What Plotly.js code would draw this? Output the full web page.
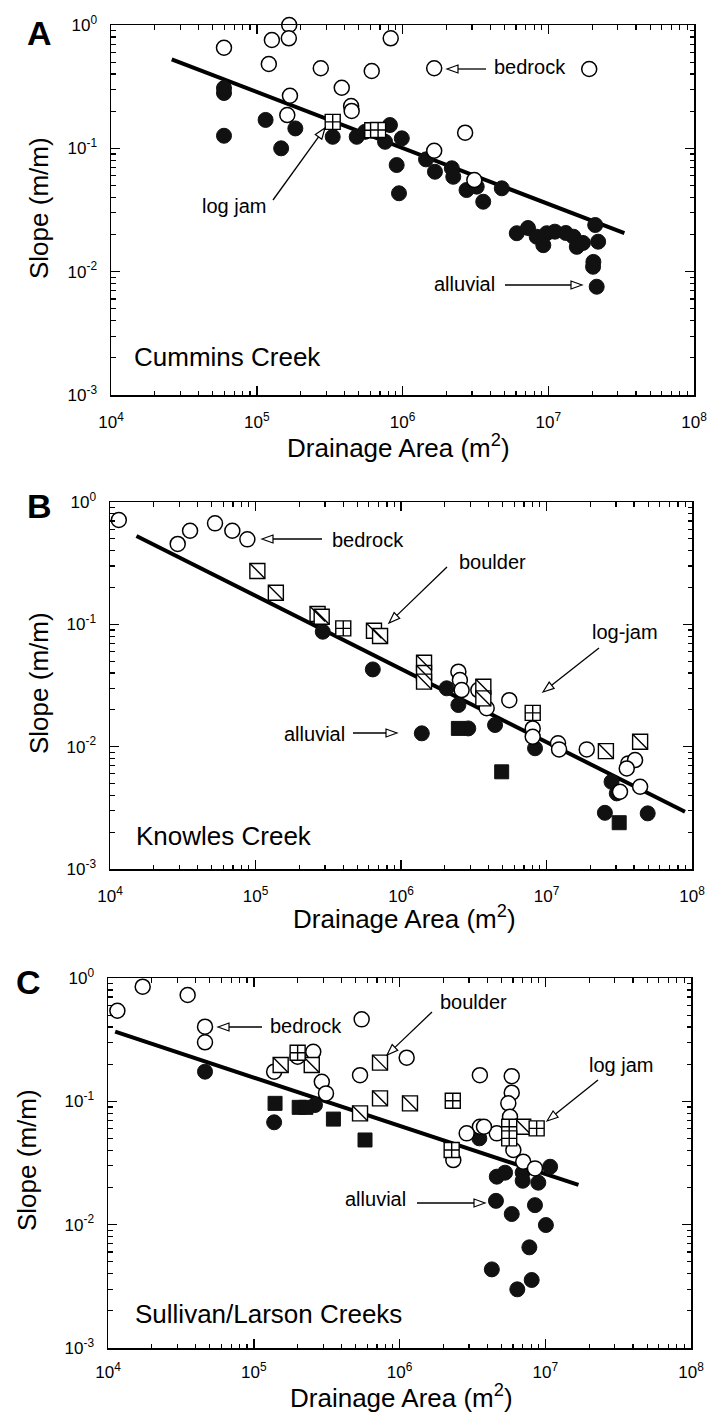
<!DOCTYPE html>
<html><head><meta charset="utf-8">
<script src="https://cdn.plot.ly/plotly-3.0.1.min.js"></script>
<style>html,body{margin:0;padding:0;background:#fff}#chart{width:710px;height:1413px}</style>
</head><body><div id="chart"></div>
<script>
// ---------------- DATA ----------------
const xTickVals = [1e4, 1e5, 1e6, 1e7, 1e8];
const xTickText = ['10<sup>4</sup>', '10<sup>5</sup>', '10<sup>6</sup>', '10<sup>7</sup>', '10<sup>8</sup>'];
const yTickVals = [0.001, 0.01, 0.1, 1];
const yTickText = ['10<sup>-3</sup>', '10<sup>-2</sup>', '10<sup>-1</sup>', '10<sup>0</sup>'];

// Panel A - Cummins Creek
const A_bedrock_x = [5.96e4, 1.27e5, 1.67e5, 1.66e5, 1.21e5, 2.75e5, 3.83e5, 1.69e5, 1.62e5, 4.44e5, 4.48e5, 8.3e5, 6.15e5, 1.65e6, 1.91e7, 2.69e6, 1.65e6, 3.11e6];
const A_bedrock_y = [0.654, 0.756, 1.0, 0.78, 0.483, 0.446, 0.31, 0.267, 0.186, 0.220, 0.201, 0.78, 0.424, 0.446, 0.44, 0.134, 0.0956, 0.0553];
const A_alluvial_x = [5.96e4, 5.96e4, 5.96e4, 1.15e5, 1.84e5, 1.47e5, 3.32e5, 4.85e5, 5.53e5, 8.2e5, 7.59e5, 9.89e5, 9.12e5, 9.46e5, 1.45e6, 1.67e6, 2.18e6, 2.23e6, 2.75e6, 3.23e6, 3.58e6, 4.8e6, 6.08e6, 7.26e6, 8.33e6, 9.76e6, 1.11e7, 9.25e6, 1.49e7, 1.57e7, 2.1e7, 2.2e7, 2.04e7, 2.03e7, 2.15e7, 1.32e7, 1.73e7];
const A_alluvial_y = [0.308, 0.281, 0.1265, 0.170, 0.145, 0.100, 0.124, 0.124, 0.136, 0.1545, 0.113, 0.1205, 0.0732, 0.0432, 0.0814, 0.0646, 0.0689, 0.0588, 0.0459, 0.0489, 0.0369, 0.0474, 0.0205, 0.0226, 0.0192, 0.0205, 0.0211, 0.0164, 0.0192, 0.0159, 0.0239, 0.0175, 0.0120, 0.01096, 0.00755, 0.0206, 0.0171];
const A_logjam_x = [3.32e5, 6.2e5, 6.8e5];
const A_logjam_y = [0.164, 0.14, 0.141];
const A_fit_x = [2.61e4, 3.33e7];
const A_fit_y = [0.527, 0.0205];

// Panel B - Knowles Creek
const B_bedrock_x = [1.15e4, 2.92e4, 3.55e4, 5.27e4, 6.93e4, 8.79e4, 2.48e6, 2.54e6, 2.61e6, 3.4e6, 5.55e6, 3.88e6, 8.04e6, 8.04e6, 1.2e7, 1.22e7, 1.89e7, 3.65e7, 4.06e7, 3.56e7, 4.4e7, 3.2e7];
const B_bedrock_y = [0.713, 0.454, 0.582, 0.669, 0.582, 0.495, 0.041, 0.0351, 0.029, 0.029, 0.0240, 0.0206, 0.0141, 0.01205, 0.01064, 0.0095, 0.0095, 0.0073, 0.00777, 0.00664, 0.0047, 0.00428];
const B_boulder_x = [1.03e5, 1.38e5, 2.67e5, 2.85e5, 6.52e5, 7.18e5, 1.44e6, 1.44e6, 1.44e6, 3.68e6, 3.68e6, 2.56e7, 4.4e7];
const B_boulder_y = [0.273, 0.181, 0.1214, 0.1154, 0.0887, 0.0802, 0.0485, 0.040, 0.034, 0.0309, 0.0248, 0.0092, 0.01096];
const B_logjam_x = [4.01e5, 8.04e6];
const B_logjam_y = [0.0927, 0.0189];
const B_alluvial_x = [2.9e5, 6.4e5, 2.06e6, 2.48e6, 1.39e6, 4.43e6, 8.34e6, 2.8e7, 3.04e7, 2.52e7, 4.96e7, 2.9e6];
const B_alluvial_y = [0.087, 0.0428, 0.0300, 0.0219, 0.01285, 0.01503, 0.0097, 0.00516, 0.00415, 0.00288, 0.00285, 0.0141];
const B_filledSq_x = [2.48e6, 4.92e6, 3.16e7];
const B_filledSq_y = [0.0141, 0.00623, 0.00239];
const B_fit_x = [1.52e4, 8.95e7];
const B_fit_y = [0.527, 0.00294];

// Panel C - Sullivan/Larson Creeks
const C_bedrock_x = [1.16e4, 1.73e4, 3.52e4, 4.63e4, 4.63e4, 1.38e5, 2.0e5, 2.56e5, 2.93e5, 3.13e5, 5.5e5, 5.36e5, 1.12e6, 3.56e6, 5.89e6, 5.89e6, 5.58e6, 5.73e6, 3.56e6, 2.89e6, 4.65e6, 6.04e6, 7.06e6, 2.34e6, 8.5e6, 3.8e6];
const C_bedrock_y = [0.543, 0.85, 0.728, 0.403, 0.301, 0.174, 0.230, 0.252, 0.144, 0.116, 0.462, 0.163, 0.226, 0.163, 0.160, 0.1175, 0.0963, 0.075, 0.0622, 0.055, 0.055, 0.0403, 0.0324, 0.0334, 0.0286, 0.0622];
const C_boulder_x = [1.53e5, 2.5e5, 5.36e5, 7.35e5, 7.35e5, 1.18e6, 7.06e6];
const C_boulder_y = [0.197, 0.197, 0.0799, 0.206, 0.1057, 0.0963, 0.0622];
const C_logjam_x = [2.0e5, 2.32e6, 2.28e6, 5.66e6, 5.66e6, 8.73e6];
const C_logjam_y = [0.248, 0.101, 0.0403, 0.0622, 0.0501, 0.0604];
const C_alluvial_x = [4.63e4, 1.38e5, 2.63e5, 3.53e6, 4.65e6, 5.3e6, 7.0e6, 7.0e6, 8.96e6, 1.08e7, 4.59e6, 5.89e6, 8.5e6, 1.01e7, 7.78e6, 4.3e6, 8.07e6, 6.43e6];
const C_alluvial_y = [0.174, 0.0676, 0.0933, 0.0501, 0.0245, 0.0264, 0.0264, 0.0227, 0.0219, 0.0295, 0.0156, 0.0122, 0.0144, 0.00993, 0.00655, 0.00434, 0.00356, 0.00299];
const C_filledSq_x = [1.4e5, 2.05e5, 2.28e5, 3.52e5, 5.8e5];
const C_filledSq_y = [0.0963, 0.0894, 0.0894, 0.0718, 0.0486];
const C_fit_x = [1.12e4, 1.69e7];
const C_fit_y = [0.367, 0.021];

// ---------------- LAYOUT HELPERS ----------------
const W = 710, H = 1413;
const FONT = '"Liberation Sans", Arial, Helvetica, sans-serif';
const px = x => x / W;
const py = y => 1 - y / H;

const xMinor = [], yMinor = [];
for (let k = 4; k < 8; k++) for (let d = 2; d <= 9; d++) xMinor.push(d * Math.pow(10, k));
for (let k = -3; k < 0; k++) for (let d = 2; d <= 9; d++) yMinor.push(d * Math.pow(10, k));

function axisBase() {
  return {
    type: 'log', showgrid: false, zeroline: false,
    showline: true, linecolor: '#000', linewidth: 1.5, mirror: 'ticks',
    ticks: 'inside', ticklen: 9, tickwidth: 1.5, tickcolor: '#000',
    tickfont: {family: FONT, size: 17, color: '#000'},
    tickmode: 'array', fixedrange: true,
  };
}
function xAxis(l, r, anchor, standoff) {
  return Object.assign(axisBase(), {
    range: [4, 8], domain: [px(l), px(r)], anchor: anchor,
    tickvals: xTickVals, ticktext: xTickText, ticklabelstandoff: standoff,
    minor: {tickmode: 'array', tickvals: xMinor, ticks: 'inside', ticklen: 4.5, tickwidth: 1.2, tickcolor: '#000', showgrid: false},
  });
}
function yAxis(t, b, anchor) {
  return Object.assign(axisBase(), {
    range: [-3, 0], domain: [py(b), py(t)], anchor: anchor,
    tickvals: yTickVals, ticktext: yTickText, ticklabelstandoff: 9,
    minor: {tickmode: 'array', tickvals: yMinor, ticks: 'inside', ticklen: 4.5, tickwidth: 1.2, tickcolor: '#000', showgrid: false},
  });
}

const MS = 15;
function fit(x, y, xa, ya) {
  return {x, y, xaxis: xa, yaxis: ya, mode: 'lines', line: {color: '#000', width: 4}, cliponaxis: false, hoverinfo: 'skip'};
}
function filledCircles(x, y, xa, ya) {
  return {x, y, xaxis: xa, yaxis: ya, mode: 'markers', cliponaxis: false,
    marker: {symbol: 'circle', size: MS, color: '#111', line: {color: '#111', width: 1}}};
}
function filledSquares(x, y, xa, ya) {
  return {x, y, xaxis: xa, yaxis: ya, mode: 'markers', cliponaxis: false,
    marker: {symbol: 'square', size: MS - 1, color: '#111', line: {color: '#111', width: 1}}};
}
function openCircles(x, y, xa, ya) {
  return {x, y, xaxis: xa, yaxis: ya, mode: 'markers', cliponaxis: false,
    marker: {symbol: 'circle', size: MS, color: '#fff', line: {color: '#000', width: 1.5}}};
}
function boulderBox(x, y, xa, ya) {
  return {x, y, xaxis: xa, yaxis: ya, mode: 'markers', cliponaxis: false,
    marker: {symbol: 'square', size: MS, color: '#fff', line: {color: '#000', width: 1.4}}};
}
function boulderDiag(x, y, xa, ya) {
  return {x, y, xaxis: xa, yaxis: ya, mode: 'markers', cliponaxis: false,
    marker: {symbol: 'line-nw', size: MS, color: '#000', line: {color: '#000', width: 1.4}}};
}
function logjam(x, y, xa, ya) {
  return {x, y, xaxis: xa, yaxis: ya, mode: 'markers', cliponaxis: false,
    marker: {symbol: 'square-cross', size: MS, color: '#fff', line: {color: '#000', width: 1.4}}};
}

const data = [
  fit(A_fit_x, A_fit_y, 'x', 'y'),
  filledCircles(A_alluvial_x, A_alluvial_y, 'x', 'y'),
  openCircles(A_bedrock_x, A_bedrock_y, 'x', 'y'),
  logjam(A_logjam_x, A_logjam_y, 'x', 'y'),

  fit(B_fit_x, B_fit_y, 'x2', 'y2'),
  filledCircles(B_alluvial_x, B_alluvial_y, 'x2', 'y2'),
  filledSquares(B_filledSq_x, B_filledSq_y, 'x2', 'y2'),
  openCircles(B_bedrock_x, B_bedrock_y, 'x2', 'y2'),
  boulderBox(B_boulder_x, B_boulder_y, 'x2', 'y2'),
  boulderDiag(B_boulder_x, B_boulder_y, 'x2', 'y2'),
  logjam(B_logjam_x, B_logjam_y, 'x2', 'y2'),

  fit(C_fit_x, C_fit_y, 'x3', 'y3'),
  filledCircles(C_alluvial_x, C_alluvial_y, 'x3', 'y3'),
  filledSquares(C_filledSq_x, C_filledSq_y, 'x3', 'y3'),
  openCircles(C_bedrock_x, C_bedrock_y, 'x3', 'y3'),
  boulderBox(C_boulder_x, C_boulder_y, 'x3', 'y3'),
  boulderDiag(C_boulder_x, C_boulder_y, 'x3', 'y3'),
  logjam(C_logjam_x, C_logjam_y, 'x3', 'y3'),
];

// ---------------- ANNOTATIONS ----------------
const annotations = [];
function txt(text, x, y, size, anchor, opts) {
  annotations.push(Object.assign({
    text, x: px(x), y: py(y), xref: 'paper', yref: 'paper', showarrow: false,
    xanchor: anchor || 'left', yanchor: 'middle',
    font: {family: FONT, size: size, color: '#000'}
  }, opts || {}));
}
const shapes = [];
function arrow(tx, ty, hx, hy) {
  const dx = hx - tx, dy = hy - ty, len = Math.hypot(dx, dy);
  const ux = dx / len, uy = dy / len, nx = -uy, ny = ux;
  const L = 11, hw = 4;
  const bx = hx - ux * L, by = hy - uy * L;
  shapes.push({type: 'line', xref: 'paper', yref: 'paper', x0: px(tx), y0: py(ty), x1: px(bx), y1: py(by),
    line: {color: '#000', width: 1.3}});
  const p = [[hx, hy], [bx + nx * hw, by + ny * hw], [bx - nx * hw, by - ny * hw]];
  shapes.push({type: 'path', xref: 'paper', yref: 'paper',
    path: 'M' + p.map(q => px(q[0]) + ',' + py(q[1])).join('L') + 'Z',
    fillcolor: '#fff', line: {color: '#000', width: 1.2}});
}

// Panel A
txt('<b>A</b>', 39.5, 33, 34, 'center');
txt('bedrock', 492, 67, 20);
arrow(486, 69, 447, 69);
txt('log jam', 234, 206, 20, 'center');
arrow(273, 200, 325, 128);
txt('alluvial', 432, 284, 20);
arrow(505, 285, 582, 285);
txt('Cummins Creek', 132, 357, 26);
txt('Slope (m/m)', 39, 208, 26, 'center', {textangle: -90});
txt('Drainage Area (m<sup>2</sup>)', 398, 447, 26, 'center');

// Panel B
txt('<b>B</b>', 39.5, 506, 34, 'center');
txt('bedrock', 330, 540, 20);
arrow(322, 539, 262, 539);
txt('boulder', 457, 562, 20);
arrow(447, 567, 389, 623);
txt('log-jam', 590, 632, 20);
arrow(599, 648, 543, 692);
txt('alluvial', 282, 734, 20);
arrow(353, 733, 397, 733);
txt('Knowles Creek', 134, 836, 26);
txt('Slope (m/m)', 39, 683, 26, 'center', {textangle: -90});
txt('Drainage Area (m<sup>2</sup>)', 404, 917, 26, 'center');

// Panel C
txt('<b>C</b>', 28, 982, 34, 'center');
txt('bedrock', 268, 1026, 20);
arrow(262, 1027, 218, 1027);
txt('boulder', 438, 1002, 20);
arrow(432, 1012, 387, 1055);
txt('log jam', 587, 1065, 20);
arrow(598, 1080, 547, 1121);
txt('alluvial', 408, 1199, 20, 'right');
arrow(417, 1203, 485, 1203);
txt('Sullivan/Larson Creeks', 133, 1314, 26);
txt('Slope (m/m)', 27, 1160, 26, 'center', {textangle: -90});
txt('Drainage Area (m<sup>2</sup>)', 401, 1396, 26, 'center');

const layout = {
  width: W, height: H,
  margin: {l: 0, r: 0, t: 0, b: 0},
  paper_bgcolor: '#fff', plot_bgcolor: '#fff',
  showlegend: false,
  font: {family: FONT, color: '#000'},
  xaxis: xAxis(111, 694, 'y', 11),
  yaxis: yAxis(25, 395, 'x'),
  xaxis2: xAxis(110, 692, 'y2', 11),
  yaxis2: yAxis(502, 869, 'x2'),
  xaxis3: xAxis(108, 691, 'y3', 8),
  yaxis3: yAxis(978, 1348, 'x3'),
  annotations, shapes,
};

Plotly.newPlot('chart', data, layout, {staticPlot: true, displayModeBar: false});
</script>
</body></html>
